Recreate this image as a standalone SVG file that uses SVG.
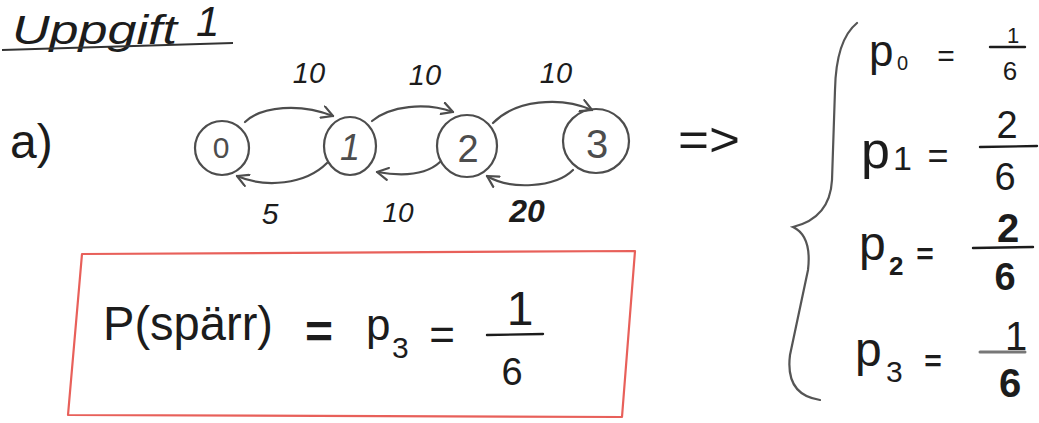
<svg xmlns="http://www.w3.org/2000/svg" width="1039" height="423" viewBox="0 0 1039 423">
<style>
.t{font-family:"Liberation Sans","DejaVu Sans",sans-serif;fill:#1c1c1c}
.i{font-style:italic}
.b{font-weight:bold}
.m{text-anchor:middle}
.node{fill:none;stroke:#4d4d4d;stroke-width:2.2}
.nl{font-family:"Liberation Sans","DejaVu Sans",sans-serif;fill:#4d4d4d;text-anchor:middle}
.edge{fill:none;stroke:#4d4d4d;stroke-width:2.2;stroke-linecap:round;marker-end:url(#arr)}
.bar{stroke:#1c1c1c;stroke-width:2.4;stroke-linecap:round}
</style>
<defs>
<marker id="arr" viewBox="0 0 14 14" refX="12" refY="7" markerWidth="14" markerHeight="14" markerUnits="userSpaceOnUse" orient="auto">
<path d="M1,1 L12,7 L1,13" fill="none" stroke="#4d4d4d" stroke-width="2.2" stroke-linecap="round" stroke-linejoin="round"/>
</marker>
</defs>
<rect width="1039" height="423" fill="#ffffff"/>

<g id="title">
<text class="t i" x="12" y="44" font-size="40" textLength="165" lengthAdjust="spacingAndGlyphs" fill="#333">Uppgift</text>
<text class="t i" x="196" y="36" font-size="42" fill="#333">1</text>
<path d="M2 50 L233 43" stroke="#333" stroke-width="2" fill="none"/>
</g>

<text class="t" x="10" y="158" font-size="48">a)</text>

<g id="n0"><ellipse class="node" cx="222" cy="148" rx="27" ry="27"/><text class="nl" x="221" y="158" font-size="30">0</text></g>
<g id="n1"><ellipse class="node" cx="350" cy="146" rx="26" ry="29"/><text class="nl i" x="350" y="160" font-size="36">1</text></g>
<g id="n2"><ellipse class="node" cx="467" cy="146" rx="30" ry="31"/><text class="nl" x="468" y="162" font-size="38">2</text></g>
<g id="n3"><ellipse class="node" cx="596" cy="141" rx="33" ry="32"/><text class="nl" x="597" y="158" font-size="40">3</text></g>

<g id="connectors">
<path class="edge" d="M245 122 C 262 106, 300 103, 333 116"/>
<path class="edge" d="M372 121 C 390 106, 425 102, 453 112"/>
<path class="edge" d="M493 123 C 515 100, 560 96, 592 110"/>
<path class="edge" d="M327 163 C 305 185, 265 188, 237 176"/>
<path class="edge" d="M440 162 C 425 176, 400 176, 377 172"/>
<path class="edge" d="M573 170 C 555 188, 510 190, 487 176"/>
</g>

<g id="edge-labels">
<text class="t i m" x="309" y="83" font-size="29">10</text>
<text class="t i m" x="425" y="85" font-size="29">10</text>
<text class="t i m" x="556" y="83" font-size="29">10</text>
<text class="t i m" x="270" y="224" font-size="30">5</text>
<text class="t i m" x="398" y="222" font-size="28">10</text>
<text class="t i m b" x="527" y="222" font-size="32">20</text>
</g>

<text class="t" x="678" y="156" font-size="48" textLength="62" lengthAdjust="spacingAndGlyphs">=&gt;</text>

<g id="result">
<path d="M82 254 L635 251 L622 417 L68 415 Z" fill="none" stroke="#e8605a" stroke-width="2.2" stroke-linejoin="round"/>
<text class="t" x="103" y="340" font-size="48" textLength="170" lengthAdjust="spacingAndGlyphs">P(spärr)</text>
<text class="t m b" x="319" y="348" font-size="48">=</text>
<text class="t" x="366" y="340" font-size="44">p</text>
<text class="t" x="392" y="358" font-size="30">3</text>
<text class="t m" x="442" y="350" font-size="44">=</text>
<text class="t m" x="520" y="325" font-size="48">1</text>
<path class="bar" d="M487 335 L543 334"/>
<text class="t m" x="512" y="385" font-size="38">6</text>
</g>

<g id="solution">
<path d="M857 23 Q 836 40 835 90 L 832 180 Q 830 218 793 227 Q 812 236 808 270 L 790 355 Q 785 395 820 400" fill="none" stroke="#555" stroke-width="2.2" stroke-linecap="round"/>

<text class="t" x="869" y="66" font-size="44">p</text>
<text class="t" x="897" y="70" font-size="20">0</text>
<text class="t m" x="946" y="66" font-size="30">=</text>
<text class="t m" x="1013" y="43" font-size="22">1</text>
<path class="bar" d="M990 47 L1025 47"/>
<text class="t m" x="1010" y="80" font-size="26">6</text>

<text class="t" x="861" y="168" font-size="52">p</text>
<text class="t" x="893" y="170" font-size="34">1</text>
<text class="t m" x="938" y="168" font-size="36">=</text>
<text class="t m" x="1007" y="138" font-size="38">2</text>
<path class="bar" d="M980 147 L1037 146"/>
<text class="t m" x="1005" y="190" font-size="38">6</text>

<text class="t" x="859" y="260" font-size="48">p</text>
<text class="t b" x="889" y="275" font-size="26">2</text>
<text class="t m b" x="925" y="264" font-size="30">=</text>
<text class="t m b" x="1008" y="242" font-size="40">2</text>
<path class="bar" d="M973 248 L1033 247" stroke-width="3"/>
<text class="t m b" x="1005" y="290" font-size="38">6</text>

<text class="t" x="855" y="366" font-size="48">p</text>
<text class="t" x="886" y="382" font-size="30">3</text>
<text class="t m b" x="933" y="371" font-size="30">=</text>
<text class="t m" x="1016" y="350" font-size="40">1</text>
<path d="M980 352 L1025 352" stroke="#777" stroke-width="3" stroke-linecap="round"/>
<text class="t m b" x="1010" y="397" font-size="40">6</text>
</g>
</svg>
